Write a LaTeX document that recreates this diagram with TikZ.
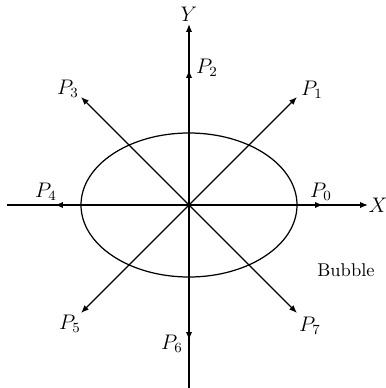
\documentclass[tikz,border=0pt]{standalone}
\usetikzlibrary{arrows.meta}
\begin{document}
\begin{tikzpicture}[x=0.02cm,y=0.02cm,
    vec/.style={-{Latex[length=4.5pt,width=3.6pt]},line width=0.8pt},
    lbl/.style={inner sep=1pt,font=\large}
]
\useasboundingbox (-189,-183) rectangle (196,205);
\coordinate (O) at (0,0);
% axes
\coordinate (xl) at (-182,0);
\coordinate (xr) at (179,0);
\coordinate (yb) at (0,-183);
\coordinate (yt) at (0,181);
% direction tips
\coordinate (p0) at (134,0);
\coordinate (p1) at (108,108);
\coordinate (p2) at (0,135);
\coordinate (p3) at (-108,108);
\coordinate (p4) at (-134,0);
\coordinate (p5) at (-108,-108);
\coordinate (p6) at (0,-135);
\coordinate (p7) at (108,-108);

\draw[line width=0.7pt] (O) ellipse (108 and 72);

\draw[line width=0.8pt] (xl) -- (O);
\draw[vec] (O) -- (xr);
\draw[line width=0.8pt] (yb) -- (O);
\draw[vec] (O) -- (yt);
\draw[vec] (O) -- (p0);
\draw[vec] (O) -- (p1);
\draw[vec] (O) -- (p2);
\draw[vec] (O) -- (p3);
\draw[vec] (O) -- (p4);
\draw[vec] (O) -- (p5);
\draw[vec] (O) -- (p6);
\draw[vec] (O) -- (p7);

\node[lbl] (X)  at (189,0)     {$X$};
\node[lbl] (Y)  at (0,191)     {$Y$};
\node[lbl] (L0) at (132,13)    {$P_0$};
\node[lbl] (L1) at (123,115)   {$P_1$};
\node[lbl] (L2) at (18,137)    {$P_2$};
\node[lbl] (L3) at (-121,116)  {$P_3$};
\node[lbl] (L4) at (-143,13)   {$P_4$};
\node[lbl] (L5) at (-119,-119) {$P_5$};
\node[lbl] (L6) at (-17,-139)  {$P_6$};
\node[lbl] (L7) at (121,-121)  {$P_7$};
\node[inner sep=1pt,font=\fontsize{10.5}{12}\selectfont] (B) at (157,-65) {Bubble};
\end{tikzpicture}
\end{document}
